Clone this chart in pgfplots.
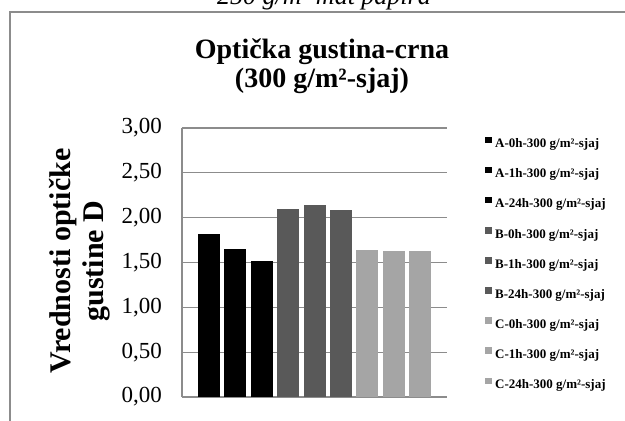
\documentclass[border=0pt]{standalone}
\usepackage{fontspec}
\setmainfont{Liberation Serif}
\usepackage{pgfplots}
\pgfplotsset{compat=1.18}
\definecolor{gridc}{RGB}{140,140,140}
\definecolor{serA}{RGB}{0,0,0}
\definecolor{serB}{RGB}{89,89,89}
\definecolor{serC}{RGB}{165,165,165}
\begin{document}
\begin{tikzpicture}
\useasboundingbox (0pt,0pt) rectangle (625pt,421pt);
\draw[gridc, line width=1.3pt] (10pt,-5pt) -- (10pt,409pt) -- (630pt,409pt);
\node[font=\fontsize{26}{26}\selectfont\itshape, anchor=base] at (324pt,416pt) {250 g/m² mat papira};
\node[font=\fontsize{28}{28}\selectfont\bfseries, anchor=base] at (322pt,362pt) {Optička gustina-crna};
\node[font=\fontsize{28}{28}\selectfont\bfseries, anchor=base] at (322pt,333pt) {(300 g/m²-sjaj)};
\node[font=\fontsize{30}{33}\selectfont\bfseries, rotate=90, align=center] at (80pt,160pt) {Vrednosti optičke\\gustine D};
\begin{axis}[
  at={(182pt,24pt)}, anchor=south west,
  scale only axis, width=265pt, height=269pt,
  xmin=0, xmax=265, ymin=0, ymax=3,
  enlargelimits=false,
  xtick=\empty,
  ytick={0,0.5,1,1.5,2,2.5,3},
  major tick length=0pt,
  axis lines=left,
  axis line style={-, draw=gridc, line width=1.2pt},
  ymajorgrids,
  grid style={draw=gridc, line width=1.2pt},
  yticklabel style={font=\fontsize{23}{23}\selectfont, inner sep=0pt, xshift=-20pt},
  /pgf/number format/assume math mode=true,
  yticklabel={\pgfmathprintnumber[fixed, fixed zerofill, precision=2, use comma]{\tick}},
  legend image code/.code={\fill[#1] (0pt,1.5pt) rectangle (6.5pt,8pt); \path (0pt,0pt) (10pt,0pt);},
  legend style={at={(1.1434,0.9684)}, anchor=north west, draw=none, fill=none, inner sep=0pt,
    font=\fontsize{13}{13}\selectfont\bfseries, row sep=16.1pt,
    nodes={inner sep=0pt, text height=9pt, text depth=3pt}},
  legend cell align=left,
]
\addplot[ybar, bar width=22pt, bar shift=0pt, fill=serA, draw=none] coordinates {(27,1.82)};
\addlegendentry{A-0h-300 g/m²-sjaj}
\addplot[ybar, bar width=22pt, bar shift=0pt, fill=serA, draw=none] coordinates {(53.4,1.65)};
\addlegendentry{A-1h-300 g/m²-sjaj}
\addplot[ybar, bar width=22pt, bar shift=0pt, fill=serA, draw=none] coordinates {(79.75,1.52)};
\addlegendentry{A-24h-300 g/m²-sjaj}
\addplot[ybar, bar width=22pt, bar shift=0pt, fill=serB, draw=none] coordinates {(106.1,2.10)};
\addlegendentry{B-0h-300 g/m²-sjaj}
\addplot[ybar, bar width=22pt, bar shift=0pt, fill=serB, draw=none] coordinates {(132.5,2.14)};
\addlegendentry{B-1h-300 g/m²-sjaj}
\addplot[ybar, bar width=22pt, bar shift=0pt, fill=serB, draw=none] coordinates {(158.9,2.09)};
\addlegendentry{B-24h-300 g/m²-sjaj}
\addplot[ybar, bar width=22pt, bar shift=0pt, fill=serC, draw=none] coordinates {(185.25,1.64)};
\addlegendentry{C-0h-300 g/m²-sjaj}
\addplot[ybar, bar width=22pt, bar shift=0pt, fill=serC, draw=none] coordinates {(211.6,1.63)};
\addlegendentry{C-1h-300 g/m²-sjaj}
\addplot[ybar, bar width=22pt, bar shift=0pt, fill=serC, draw=none] coordinates {(238,1.63)};
\addlegendentry{C-24h-300 g/m²-sjaj}
\end{axis}
\end{tikzpicture}
\end{document}
